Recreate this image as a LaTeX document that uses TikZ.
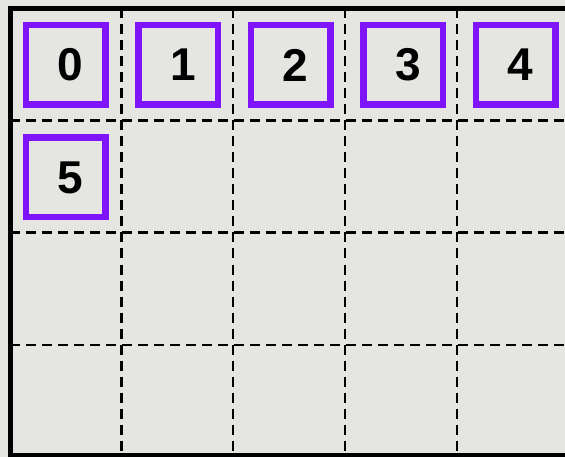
\documentclass[tikz,border=0pt]{standalone}
\usepackage{fontspec}
\setmainfont{Liberation Sans}
\usetikzlibrary{positioning}
\definecolor{boxviolet}{RGB}{127,20,250}
\definecolor{paper}{RGB}{229,229,226}
\tikzset{
  slot/.style={draw=boxviolet,line width=6.5pt,minimum size=79.5pt,inner sep=0pt},
  digit/.style={font=\fontsize{46}{52}\selectfont\bfseries,xshift=5pt},
  gridline/.style={dash pattern=on 10pt off 6pt,line width=2.6pt},
  frame/.style={line width=5pt}
}

\begin{document}
\begin{tikzpicture}[x=1pt,y=-1pt,node distance=26.5pt and 26.5pt]
  \fill[paper] (0,0) rectangle (565,457);
  \useasboundingbox (0,0) rectangle (565,457);

  % dashed grid
  \foreach \gx in {121.5,233,345,457}
    \draw[gridline] (\gx,8.5) -- (\gx,455);
  \foreach \gy in {120.7,232.7,345}
    \draw[gridline] (10,\gy) -- (565,\gy);

  % outer frame, open to the right
  \draw[frame] (565,8.5) -- (10,8.5) -- (10,455) -- (565,455);

  % numbered slots
  \node[slot,label={[digit]center:0}] (b0) at (65.5,65) {};
  \node[slot,right=of b0,label={[digit]center:1}] (b1) {};
  \node[slot,right=of b1,label={[digit]center:2}] (b2) {};
  \node[slot,right=of b2,label={[digit]center:3}] (b3) {};
  \node[slot,right=of b3,label={[digit]center:4}] (b4) {};
  \node[slot,below=of b0,label={[digit]center:5}] (b5) {};
\end{tikzpicture}
\end{document}
